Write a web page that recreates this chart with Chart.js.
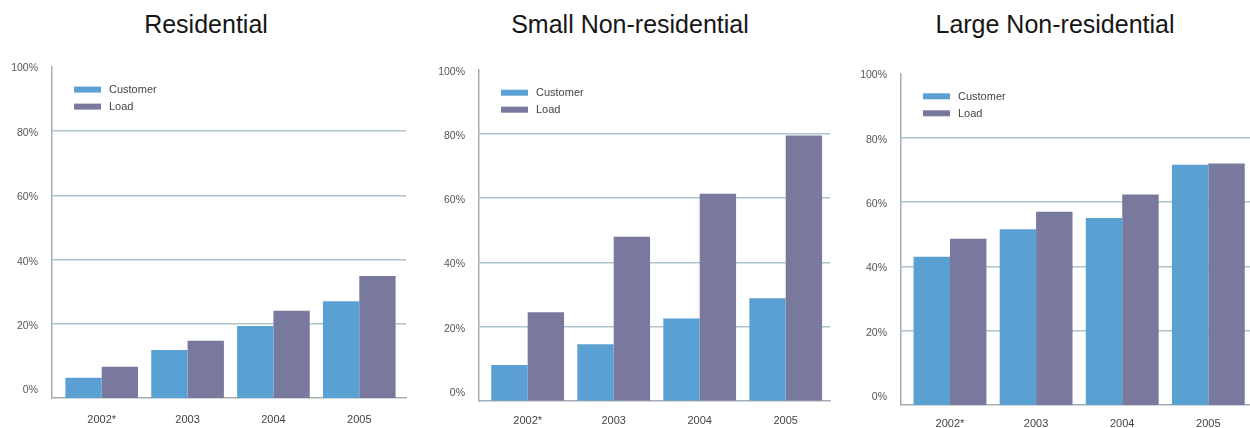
<!DOCTYPE html>
<html>
<head>
<meta charset="utf-8">
<title>Customer and load share by segment</title>
<script src="https://cdn.jsdelivr.net/npm/chart.js@4/dist/chart.umd.min.js"></script>
<style>
  html, body { margin: 0; padding: 0; background: #fff; }
  #wrap { position: relative; width: 1250px; height: 428px; overflow: hidden; }
  .panel { position: absolute; top: 0; }
  .titulo {
    position: absolute; top: 9px; width: 300px; margin-left: -150px;
    text-align: center; font: 25px "Liberation Sans", Arial, sans-serif;
    color: #161616; line-height: 30px;
  }
</style>
</head>
<body>
<div id="wrap">
  <div class="titulo" style="left:206px">Residential</div>
  <div class="titulo" style="left:630px">Small Non-residential</div>
  <div class="titulo" style="left:1055px">Large Non-residential</div>
  <canvas id="chartRes" class="panel" width="410" height="428" style="left:0px"></canvas>
  <canvas id="chartSmall" class="panel" width="420" height="428" style="left:420px"></canvas>
  <canvas id="chartLarge" class="panel" width="410" height="428" style="left:840px"></canvas>
</div>
<script>
const years = ["2002*", "2003", "2004", "2005"];
const yTicks = [0, 20, 40, 60, 80, 100];

const residentialCustomer = [3.3, 11.9, 19.4, 27.1];
const residentialLoad = [6.7, 14.8, 24.1, 34.9];

const smallCustomer = [8.1, 14.6, 22.6, 28.9];
const smallLoad = [24.5, 48.0, 61.4, 79.5];

const largeCustomer = [43.0, 51.6, 55.1, 71.6];
const largeLoad = [48.6, 57.0, 62.4, 72.0];

const COLOR_CUSTOMER = "#5aa0d3";
const COLOR_LOAD = "#78799c";
const COLOR_GRID = "#aec4cd";
const COLOR_AXIS = "#a4adb3";
const FONT = "'Liberation Sans', Arial, sans-serif";
const Y_MIN = -3;

// legend sits inside the plot, top-left, stacked
const leyendaInterna = {
  id: "leyendaInterna",
  afterDatasetsDraw(chart) {
    const { ctx, chartArea } = chart;
    ctx.save();
    ctx.font = "11px " + FONT;
    ctx.textBaseline = "middle";
    ctx.textAlign = "left";
    chart.data.datasets.forEach((ds, i) => {
      const y = chartArea.top + 23 + i * 17;
      ctx.fillStyle = ds.backgroundColor;
      ctx.fillRect(chartArea.left + 22, y - 3, 27, 6);
      ctx.fillStyle = "#444";
      ctx.fillText(ds.label, chartArea.left + 57, y + 0.5);
    });
    ctx.restore();
  }
};

function puntos(valores) {
  return valores.map((v, i) => ({ x: i, y: v }));
}

function crearPanel(id, customer, load, layout) {
  const ctx = document.getElementById(id);
  return new Chart(ctx, {
    type: "bar",
    data: {
      datasets: [
        { label: "Customer", data: puntos(customer), backgroundColor: COLOR_CUSTOMER, base: Y_MIN },
        { label: "Load", data: puntos(load), backgroundColor: COLOR_LOAD, base: Y_MIN }
      ]
    },
    options: {
      responsive: false,
      animation: false,
      devicePixelRatio: 1,
      layout: { padding: { top: layout.top, right: layout.right, left: 0, bottom: 0 } },
      datasets: { bar: { categoryPercentage: 0.846, barPercentage: 1.0 } },
      plugins: { legend: { display: false }, tooltip: { enabled: false } },
      scales: {
        x: {
          type: "linear",
          offset: false,
          min: layout.xMin,
          max: layout.xMax,
          afterBuildTicks: (scale) => { scale.ticks = years.map((_, i) => ({ value: i })); },
          afterFit: (scale) => { scale.height = 428 - layout.base; },
          grid: { display: false, drawTicks: false, offset: false },
          border: { display: true, color: COLOR_AXIS, width: 1.5 },
          ticks: {
            padding: layout.labelPad,
            color: "#444",
            font: { family: FONT, size: 11 },
            callback: (v) => years[v]
          }
        },
        y: {
          min: Y_MIN,
          max: 100,
          afterBuildTicks: (scale) => { scale.ticks = yTicks.map(v => ({ value: v })); },
          afterFit: (scale) => { scale.width = layout.axisX; },
          grid: {
            drawTicks: false,
            lineWidth: 1.5,
            color: (c) => (c.tick && c.tick.value > 0 && c.tick.value < 100) ? COLOR_GRID : "rgba(0,0,0,0)"
          },
          border: { display: true, color: COLOR_AXIS, width: 1.5 },
          ticks: {
            padding: 14,
            labelOffset: 2,
            color: "#555",
            font: { family: FONT, size: 10.5 },
            callback: (v) => v + "%"
          }
        }
      }
    },
    plugins: [leyendaInterna]
  });
}

crearPanel("chartRes", residentialCustomer, residentialLoad,
  { top: 66.6, right: 4, axisX: 52, base: 398, labelPad: 15, xMin: -0.579, xMax: 3.544 });
crearPanel("chartSmall", smallCustomer, smallLoad,
  { top: 69.7, right: 10, axisX: 59, base: 400.7, labelPad: 14, xMin: -0.566, xMax: 3.515 });
crearPanel("chartLarge", largeCustomer, largeLoad,
  { top: 73.3, right: 0, axisX: 61, base: 405, labelPad: 12, xMin: -0.569, xMax: 3.484 });
</script>
</body>
</html>
